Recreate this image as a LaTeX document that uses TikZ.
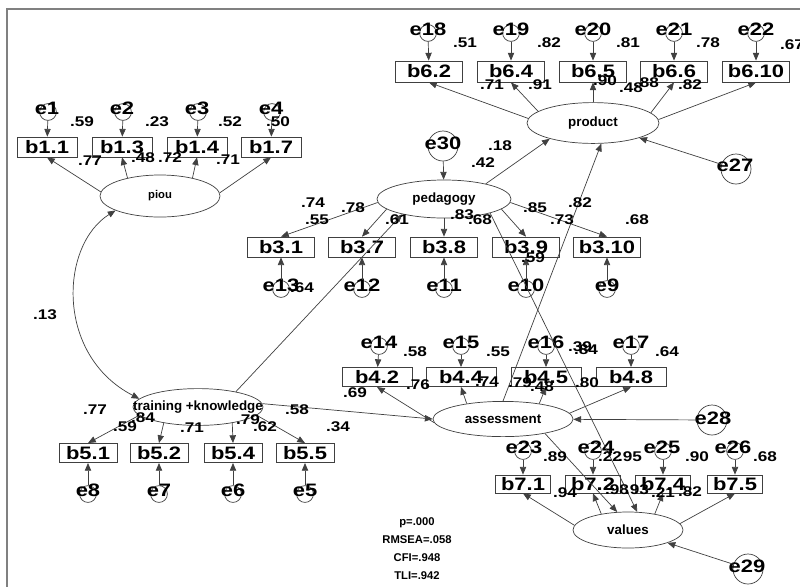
\documentclass[tikz,border=0pt]{standalone}
\usepackage{fontspec}
\newfontfamily\amoswide[FakeStretch=1.22]{Liberation Sans}
\newfontfamily\amosfont{Liberation Sans}
\usetikzlibrary{arrows.meta,shapes.geometric}

\begin{document}
\begin{tikzpicture}[x=0.025cm,y=-0.025cm,
    item/.style={draw=black!75,line width=0.5pt,inner sep=0pt,minimum height=0.5cm,
                 font=\amoswide\bfseries\fontsize{12.8}{13}\selectfont},
    piouind/.style={item,minimum width=1.5cm},
    prodind/.style={item,minimum width=1.68cm,minimum height=0.53cm},
    pedind/.style={item,minimum width=1.68cm},
    trainind/.style={item,minimum width=1.45cm,minimum height=0.48cm},
    assind/.style={item,minimum width=1.75cm,minimum height=0.48cm},
    valind/.style={item,minimum width=1.38cm,minimum height=0.45cm},
    latent/.style={ellipse,draw=black!75,line width=0.5pt,inner sep=0pt,
                   font=\amosfont\bfseries\fontsize{9.5}{10}\selectfont},
    err/.style={circle,draw=black!75,line width=0.5pt,inner sep=0pt,minimum size=0.42cm},
    dist/.style={err,minimum size=0.75cm},
    ename/.style={inner sep=0pt,font=\amoswide\bfseries\fontsize{12.8}{13}\selectfont},
    coef/.style={inner sep=0pt,font=\amoswide\bfseries\fontsize{10}{10}\selectfont},
    link/.style={-{Triangle[length=5.5pt,width=4.5pt]},line width=0.5pt,draw=black!75},
    cov/.style={{Triangle[length=5.5pt,width=4.5pt]}-{Triangle[length=5.5pt,width=4.5pt]},
                line width=0.5pt,draw=black!75},
    fitstat/.style={align=center,inner sep=0pt,font=\amosfont\bfseries\fontsize{8}{12.8}\selectfont}
]
\useasboundingbox (0,0) rectangle (800,587);
\draw[black!50,line width=1.4pt] (800,9) -- (7,9) -- (7,587);

% latent variables
\node[latent,minimum width=3cm,minimum height=1.05cm,font=\amosfont\bfseries\fontsize{8}{9}\selectfont] (piou) at (160,196) {piou};
\node[latent,minimum width=3.3cm,minimum height=1.02cm] (product) at (593,123) {product};
\node[latent,minimum width=3.35cm,minimum height=0.95cm] (pedagogy) at (444,199) {pedagogy};
\node[latent,minimum width=3.25cm,minimum height=0.92cm] (training) at (198,407) {\makebox[0pt]{training +knowledge}};
\node[latent,minimum width=3.5cm,minimum height=0.88cm] (assessment) at (503,419) {assessment};
\node[latent,minimum width=2.75cm,minimum height=0.9cm] (values) at (628,530) {values};

% piou indicators
\node[piouind] (b11) at (47,147) {b1.1};
\node[piouind] (b13) at (122,147) {b1.3};
\node[piouind] (b14) at (197,147) {b1.4};
\node[piouind] (b17) at (271,147) {b1.7};
\node[err] (e1) at (48,112) {};
\node[err] (e2) at (123,112) {};
\node[err] (e3) at (198,112) {};
\node[err] (e4) at (272,112) {};
\node[ename] (e1t) at (47,108) {e1};
\node[ename] (e2t) at (122,108) {e2};
\node[ename] (e3t) at (197,108) {e3};
\node[ename] (e4t) at (271,108) {e4};

% product indicators
\node[prodind] (b62) at (429,71.5) {b6.2};
\node[prodind] (b64) at (511,71.5) {b6.4};
\node[prodind] (b65) at (593,71.5) {b6.5};
\node[prodind] (b66) at (674,71.5) {b6.6};
\node[prodind] (b610) at (756,71.5) {b6.10};
\node[err] (e18) at (428,33) {};
\node[err] (e19) at (511,33) {};
\node[err] (e20) at (593,33) {};
\node[err] (e21) at (674,33) {};
\node[err] (e22) at (756,33) {};
\node[ename] (e18t) at (428,29) {e18};
\node[ename] (e19t) at (511,29) {e19};
\node[ename] (e20t) at (593,29) {e20};
\node[ename] (e21t) at (674,29) {e21};
\node[ename] (e22t) at (756,29) {e22};

% pedagogy indicators
\node[pedind] (b31) at (281,247) {b3.1};
\node[pedind] (b37) at (362,247) {b3.7};
\node[pedind] (b38) at (444,247) {b3.8};
\node[pedind] (b39) at (526,247) {b3.9};
\node[pedind] (b310) at (607,247) {b3.10};
\node[err] (e13) at (281,289) {};
\node[err] (e12) at (362,289) {};
\node[err] (e11) at (444,289) {};
\node[err] (e10) at (526,289) {};
\node[err] (e9) at (607,289) {};
\node[ename] (e13t) at (281,285) {e13};
\node[ename] (e12t) at (362,285) {e12};
\node[ename] (e11t) at (444,285) {e11};
\node[ename] (e10t) at (526,285) {e10};
\node[ename] (e9t) at (607,285) {e9};

% training indicators
\node[trainind] (b51) at (88,453) {b5.1};
\node[trainind] (b52) at (159,453) {b5.2};
\node[trainind] (b54) at (233,453) {b5.4};
\node[trainind] (b55) at (305,453) {b5.5};
\node[err] (e8) at (88,494) {};
\node[err] (e7) at (159,494) {};
\node[err] (e6) at (233,494) {};
\node[err] (e5) at (305,494) {};
\node[ename] (e8t) at (88,490) {e8};
\node[ename] (e7t) at (159,490) {e7};
\node[ename] (e6t) at (233,490) {e6};
\node[ename] (e5t) at (305,490) {e5};

% assessment indicators
\node[assind] (b42) at (377,377) {b4.2};
\node[assind] (b44) at (461,377) {b4.4};
\node[assind] (b45) at (546,377) {b4.5};
\node[assind] (b48) at (631,377) {b4.8};
\node[err] (e14) at (379,346) {};
\node[err] (e15) at (461,346) {};
\node[err] (e16) at (546,346) {};
\node[err] (e17) at (631,346) {};
\node[ename] (e14t) at (379,342) {e14};
\node[ename] (e15t) at (461,342) {e15};
\node[ename] (e16t) at (546,342) {e16};
\node[ename] (e17t) at (631,342) {e17};

% values indicators
\node[valind] (b71) at (523,484) {b7.1};
\node[valind] (b72) at (593,484) {b7.2};
\node[valind] (b74) at (663,484) {b7.4};
\node[valind] (b75) at (735,484) {b7.5};
\node[err] (e23) at (523,451) {};
\node[err] (e24) at (593,451) {};
\node[err] (e25) at (663,451) {};
\node[err] (e26) at (735,451) {};
\node[ename] (e23t) at (524,447) {e23};
\node[ename] (e24t) at (596,447) {e24};
\node[ename] (e25t) at (662,447) {e25};
\node[ename] (e26t) at (733,447) {e26};

% disturbances
\node[dist] (e30) at (443,146) {};
\node[dist] (e27) at (736,169) {};
\node[dist] (e28) at (712,420) {};
\node[dist] (e29) at (748,569) {};
\node[ename] (e30t) at (443,143) {e30};
\node[ename] (e27t) at (735,165) {e27};
\node[ename] (e28t) at (713,418) {e28};
\node[ename] (e29t) at (747,566) {e29};

% error arrows
\draw[link] (e1) -- (b11);
\draw[link] (e2) -- (b13);
\draw[link] (e3) -- (b14);
\draw[link] (e4) -- (b17);
\draw[link] (e18) -- (b62);
\draw[link] (e19) -- (b64);
\draw[link] (e20) -- (b65);
\draw[link] (e21) -- (b66);
\draw[link] (e22) -- (b610);
\draw[link] (e13) -- (b31);
\draw[link] (e12) -- (b37);
\draw[link] (e11) -- (b38);
\draw[link] (e10) -- (b39);
\draw[link] (e9) -- (b310);
\draw[link] (e8) -- (b51);
\draw[link] (e7) -- (b52);
\draw[link] (e6) -- (b54);
\draw[link] (e5) -- (b55);
\draw[link] (e14) -- (b42);
\draw[link] (e15) -- (b44);
\draw[link] (e16) -- (b45);
\draw[link] (e17) -- (b48);
\draw[link] (e23) -- (b71);
\draw[link] (e24) -- (b72);
\draw[link] (e25) -- (b74);
\draw[link] (e26) -- (b75);

% loadings
\draw[link] (piou.176) -- (b11.south);
\draw[link] (piou.151) -- (b13.south);
\draw[link] (piou.29) -- (b14.south);
\draw[link] (piou.3) -- (b17.south);
\draw[link] (product.176) -- (b62.south);
\draw[link] (product.168) -- (b64.south);
\draw[link] (product.90) -- (b65.south);
\draw[link] (product.10) -- (b66.south);
\draw[link] (product.3) -- (b610.south);
\draw[link] (pedagogy.183) -- (b31.north);
\draw[link] (pedagogy.190) -- (b37.north);
\draw[link] (pedagogy.270) -- (b38.north);
\draw[link] (pedagogy.350) -- (b39.north);
\draw[link] (pedagogy.357) -- (b310.north);
\draw[link] (training.188) -- (b51.north);
\draw[link] (training.205) -- (b52.north);
\draw[link] (training.335) -- (b54.north);
\draw[link] (training.352) -- (b55.north);
\draw[link] (assessment.183) -- (b42.south);
\draw[link] (assessment.157) -- (b44.south);
\draw[link] (assessment.23) -- (b45.south);
\draw[link] (assessment.5) -- (b48.south);
\draw[link] (values.175) -- (b71.south);
\draw[link] (values.149) -- (b72.south);
\draw[link] (values.31) -- (b74.south);
\draw[link] (values.7) -- (b75.south);

% structural paths
\draw[link] (e30) -- (pedagogy);
\draw[link] (e27) -- (product);
\draw[link] (e28) -- (assessment);
\draw[link] (e29) -- (values);
\draw[link] (pedagogy.20) -- (product.200);
\draw[link] (assessment.north) -- (product.292);
\draw[link] (pedagogy.343) -- (values.63);
\draw[link] (assessment.341) -- (values.121);
\draw[link] (training.22) -- (pedagogy.200);
\draw[link] (training.3) -- (assessment.west);
\draw[cov] (piou.198) .. controls (60,245) and (55,355) .. (training.172);

% estimates
\node[coef] (k1) at (82,122) {.59};
\node[coef] (k2) at (157,122) {.23};
\node[coef] (k3) at (230,122) {.52};
\node[coef] (k4) at (278,122) {.50};
\node[coef] (k5) at (90,161) {.77};
\node[coef] (k6) at (143,158) {.48};
\node[coef] (k7) at (170,158) {.72};
\node[coef] (k8) at (228,160) {.71};
\node[coef] (k9) at (465,43) {.51};
\node[coef] (k10) at (549,43) {.82};
\node[coef] (k11) at (628,43) {.81};
\node[coef] (k12) at (708,43) {.78};
\node[coef] (k13) at (792,45) {.67};
\node[coef] (k14) at (492,85) {.71};
\node[coef] (k15) at (540,85) {.91};
\node[coef] (k16) at (605,81) {.90};
\node[coef] (k17) at (631,88) {.48};
\node[coef] (k18) at (647,83) {.88};
\node[coef] (k19) at (690,85) {.82};
\node[coef] (k20) at (500,146) {.18};
\node[coef] (k21) at (483,163) {.42};
\node[coef] (k22) at (313,203) {.74};
\node[coef] (k23) at (353,208) {.78};
\node[coef] (k24) at (317,220) {.55};
\node[coef] (k25) at (397,220) {.61};
\node[coef] (k26) at (462,215) {.83};
\node[coef] (k27) at (480,220) {.68};
\node[coef] (k28) at (535,208) {.85};
\node[coef] (k29) at (562,220) {.73};
\node[coef] (k30) at (580,203) {.82};
\node[coef] (k31) at (637,220) {.68};
\node[coef] (k32) at (533,258) {.59};
\node[coef] (k33) at (302,288) {.64};
\node[coef] (k34) at (45,315) {.13};
\node[coef] (k35) at (95,410) {.77};
\node[coef] (k36) at (125,427) {.59};
\node[coef] (k37) at (143,418) {.84};
\node[coef] (k38) at (192,428) {.71};
\node[coef] (k39) at (248,420) {.79};
\node[coef] (k40) at (265,427) {.62};
\node[coef] (k41) at (297,410) {.58};
\node[coef] (k42) at (338,427) {.34};
\node[coef] (k43) at (355,393) {.69};
\node[coef] (k44) at (415,352) {.58};
\node[coef] (k45) at (498,352) {.55};
\node[coef] (k46) at (580,347) {.39};
\node[coef] (k47) at (586,350) {.84};
\node[coef] (k48) at (667,352) {.64};
\node[coef] (k49) at (418,385) {.76};
\node[coef] (k50) at (487,382) {.74};
\node[coef] (k51) at (520,383) {.79};
\node[coef] (k52) at (542,387) {.48};
\node[coef] (k53) at (587,383) {.80};
\node[coef] (k54) at (555,457) {.89};
\node[coef] (k55) at (610,457) {.22};
\node[coef] (k56) at (630,457) {.95};
\node[coef] (k57) at (697,457) {.90};
\node[coef] (k58) at (765,457) {.68};
\node[coef] (k59) at (565,493) {.94};
\node[coef] (k60) at (617,490) {.98};
\node[coef] (k61) at (637,490) {.93};
\node[coef] (k62) at (663,493) {.21};
\node[coef] (k63) at (690,492) {.82};

% fit indices
\node[fitstat] (fitidx) at (417,549) {p=.000\\RMSEA=.058\\CFI=.948\\TLI=.942};
\end{tikzpicture}
\end{document}
